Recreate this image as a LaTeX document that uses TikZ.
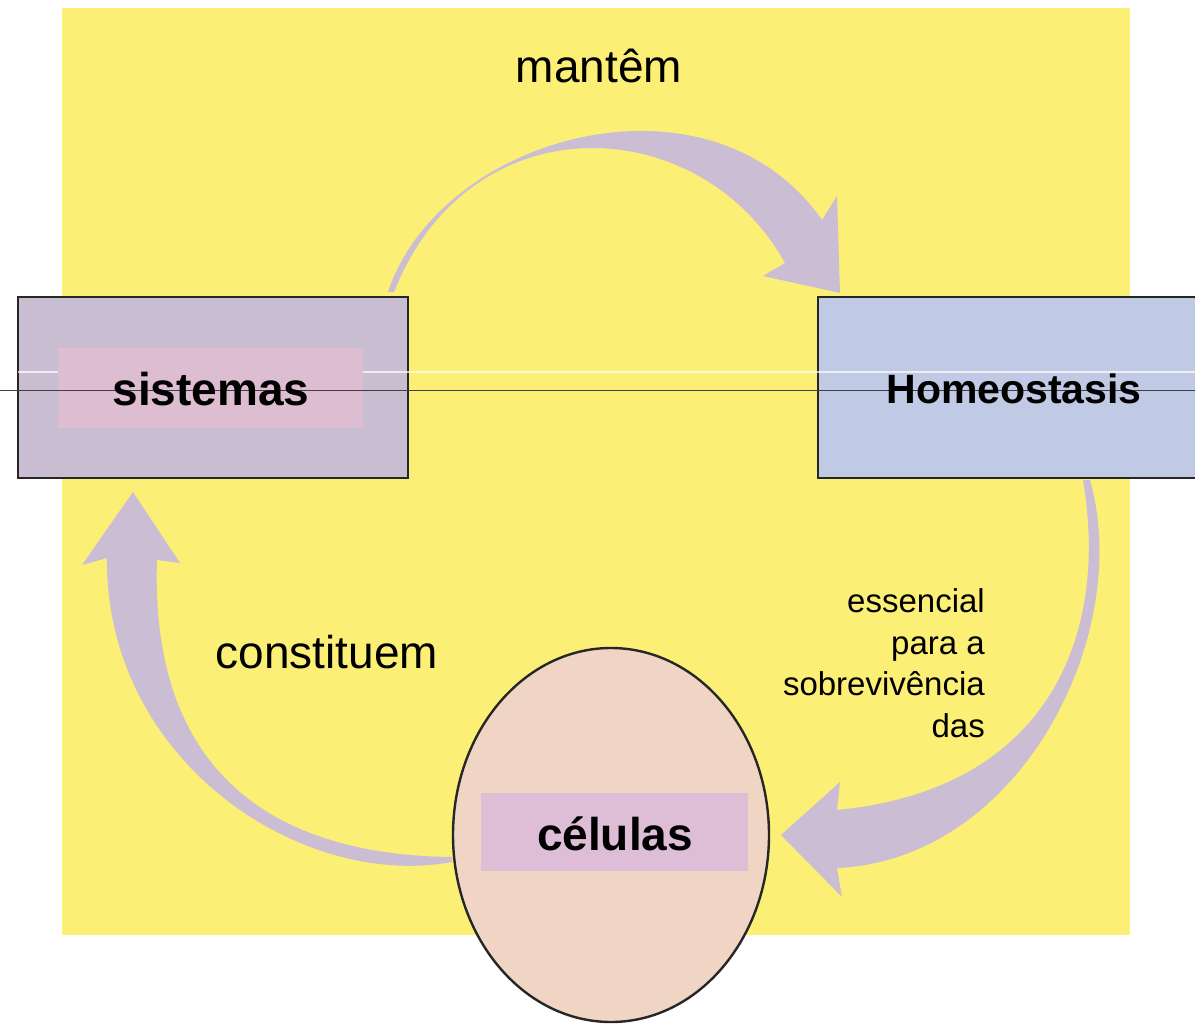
\documentclass[tikz,border=0pt]{standalone}
\usepackage{fontspec}
\setmainfont{Liberation Sans}
\usetikzlibrary{shapes.geometric}
\definecolor{bgyellow}{RGB}{252,239,118}
\definecolor{arrowcol}{RGB}{202,189,212}
\definecolor{sistfill}{RGB}{201,189,210}
\definecolor{sistinner}{RGB}{221,189,210}
\definecolor{homeofill}{RGB}{193,202,228}
\definecolor{celfill}{RGB}{240,213,196}
\definecolor{celinner}{RGB}{221,190,214}
\tikzset{
  box/.style={draw=black!85, line width=2.5pt, inner sep=0pt, rectangle},
  innerbox/.style={inner sep=0pt, rectangle},
  bigarrow/.style={fill=arrowcol, draw=none},
  lbl/.style={inner sep=0pt, anchor=base, font=\fontsize{46}{50}\selectfont},
  boldlbl/.style={inner sep=0pt, anchor=base, font=\fontsize{46}{50}\selectfont\bfseries},
}
\begin{document}
\begin{tikzpicture}[x=1pt,y=-1pt]
\clip (0,0) rectangle (1195,1025);
\fill[white] (0,0) rectangle (1195,1025);
% yellow background
\fill[bgyellow] (62,8) rectangle (1130,935);

% arrows
% top: sistemas -> Homeostasis
\fill[bigarrow] (388,292) .. controls (440,135) and (710,60) .. (822,220)
  -- (837,196) -- (840,293) -- (763,276) -- (785,263)
  .. controls (700,110) and (470,100) .. (394,292) -- cycle;
% right: Homeostasis -> celulas
\fill[bigarrow] (1090,480) .. controls (1134,635) and (1020,860) .. (837,868)
  -- (842,897) -- (781,835) -- (840,782) -- (837,810)
  .. controls (1045,790) and (1110,640) .. (1083,480) -- cycle;
% left: celulas -> sistemas
\fill[bigarrow] (452,862) .. controls (300,890) and (105,760) .. (107,558)
  -- (82,565) -- (133,492) -- (180,563) -- (157,560)
  .. controls (150,770) and (270,855) .. (452,857) -- cycle;

% boxes
\node[box, fill=sistfill, minimum width=390pt, minimum height=181pt] (sist) at (213,387.5) {};
\node[box, fill=homeofill, minimum width=400pt, minimum height=181pt] (homeo) at (1018,387.5) {};
\node[ellipse, draw=black!85, line width=2.4pt, fill=celfill, minimum width=316pt, minimum height=374pt, inner sep=0pt] (cel) at (611,835) {};

% artifact lines
\draw[white, opacity=0.7, line width=1.2pt] (18,372) -- (1195,372);
\node[innerbox, fill=sistinner, minimum width=305pt, minimum height=80pt] (sistin) at (210.5,388) {};
\node[innerbox, fill=celinner, minimum width=267pt, minimum height=78pt] (celin) at (614.5,832) {};
\draw[black!75, line width=0.8pt] (0,390) -- (1195,390);

% texts
\node[boldlbl] (tsist) at (211,405) {sistemas};
\node[boldlbl, font=\fontsize{41}{45}\selectfont\bfseries] (thomeo) at (1014,403) {Homeostasis};
\node[boldlbl] (tcel) at (615,850) {células};
\node[lbl] (tmant) at (599,82) {mantêm};
\node[lbl] (tconst) at (327,668) {constituem};
\node[inner sep=0pt, anchor=base east, align=right, font=\fontsize{33}{41.5}\selectfont] (tess) at (985,737)
  {essencial\\para a\\sobrevivência\\das};
\end{tikzpicture}
\end{document}
